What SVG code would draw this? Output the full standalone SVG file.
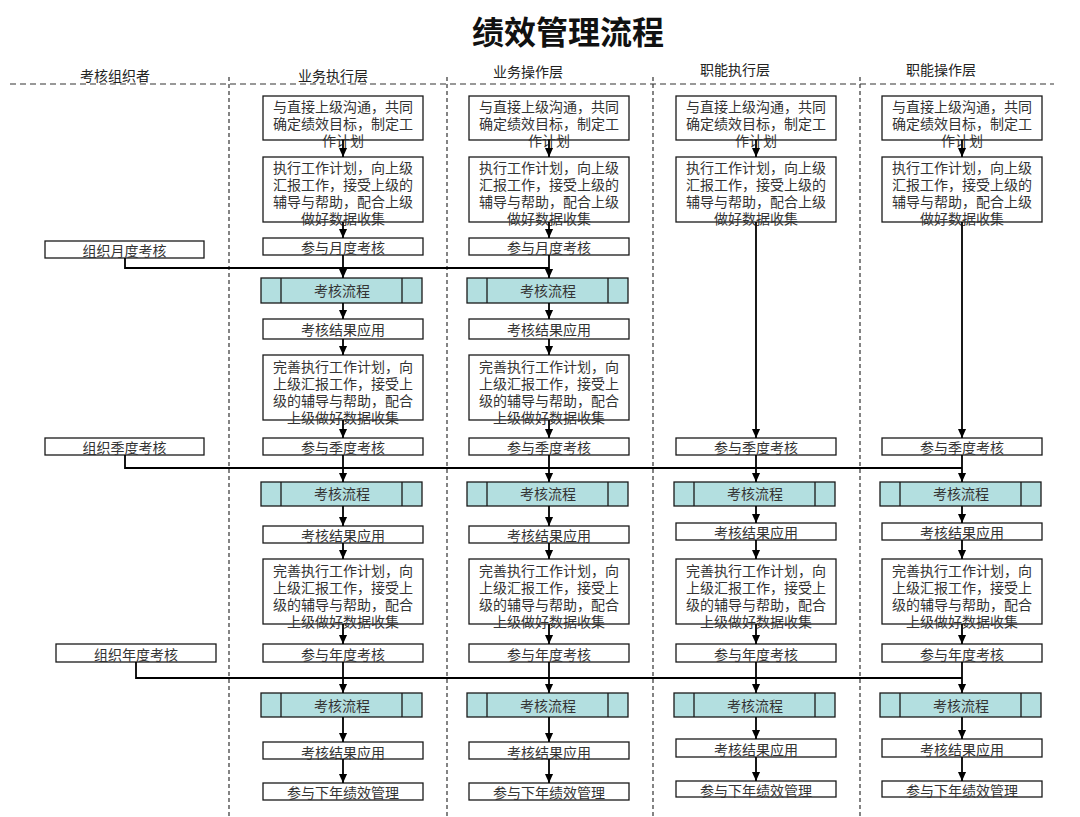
<svg xmlns="http://www.w3.org/2000/svg" width="1080" height="817" viewBox="0 0 1080 817">
<style>
.box{fill:#fff;stroke:#1a1a1a;stroke-width:1.3}
.proc{fill:#b3dfe0;stroke:#1a1a1a;stroke-width:1.3}
.in{stroke:#1a1a1a;stroke-width:1.3}
.t{font-family:"Noto Sans CJK SC","Noto Sans CJK JP",sans-serif;font-size:14px;fill:#333;text-anchor:middle}
.h{font-family:"Noto Sans CJK SC","Noto Sans CJK JP",sans-serif;font-size:14px;fill:#222;text-anchor:middle}
.title{font-family:"Noto Sans CJK SC","Noto Sans CJK JP",sans-serif;font-size:32px;font-weight:bold;fill:#111;text-anchor:middle}
.c{stroke:#000;stroke-width:1.8;fill:none}
.a{stroke:#000;stroke-width:1.8;fill:none;marker-end:url(#ah)}
.dh{stroke:#333;stroke-width:1.2;stroke-dasharray:6 4;fill:none}
.dv{stroke:#333;stroke-width:1.2;stroke-dasharray:4 3;fill:none}
</style>
<defs>
<marker id="ah" viewBox="0 0 10 10" refX="10" refY="5" markerWidth="9" markerHeight="9" markerUnits="userSpaceOnUse" orient="auto"><path d="M0,0.5 L10,5 L0,9.5 z" fill="#000"/></marker>
</defs>
<rect width="1080" height="817" fill="#fff"/>
<g id="title"><text class="title" x="568" y="44">绩效管理流程</text></g>
<g id="lanes">
<path class="dh" d="M10 84 H1054"/>
<path class="dv" d="M229 77 V817 M447 77 V817 M653 77 V817 M860 77 V817"/>
<text class="h" x="115" y="81">考核组织者</text>
<text class="h" x="333" y="81">业务执行层</text>
<text class="h" x="528" y="77">业务操作层</text>
<text class="h" x="735" y="75">职能执行层</text>
<text class="h" x="941" y="75">职能操作层</text>
</g>
<g id="org-month"><rect class="box" x="45" y="241" width="159" height="17"/><text class="t" x="124.5" y="256">组织月度考核</text></g>
<g id="org-quarter"><rect class="box" x="45" y="438" width="159" height="17"/><text class="t" x="124.5" y="453">组织季度考核</text></g>
<g id="org-year"><rect class="box" x="56" y="644" width="160" height="18"/><text class="t" x="136" y="660">组织年度考核</text></g>

<!-- column 1: 业务执行层 -->
<g id="c1-n1"><rect class="box" x="263" y="96" width="160" height="44"/><text class="t" y="112"><tspan x="343">与直接上级沟通，共同</tspan><tspan x="343" dy="17">确定绩效目标，制定工</tspan><tspan x="343" dy="17">作计划</tspan></text></g>
<g id="c1-n2"><rect class="box" x="263" y="157" width="160" height="65"/><text class="t" y="173"><tspan x="343">执行工作计划，向上级</tspan><tspan x="343" dy="17">汇报工作，接受上级的</tspan><tspan x="343" dy="17">辅导与帮助，配合上级</tspan><tspan x="343" dy="17">做好数据收集</tspan></text></g>
<g id="c1-n3"><rect class="box" x="263" y="238" width="160" height="17"/><text class="t" x="343" y="253">参与月度考核</text></g>
<g id="c1-n4"><rect class="proc" x="261" y="278" width="161" height="25"/><path class="in" d="M281 278 V303 M402 278 V303"/><text class="t" x="342" y="296">考核流程</text></g>
<g id="c1-n5"><rect class="box" x="263" y="319" width="160" height="20"/><text class="t" x="343" y="335">考核结果应用</text></g>
<g id="c1-n6"><rect class="box" x="263" y="355" width="160" height="65"/><text class="t" y="372"><tspan x="343">完善执行工作计划，向</tspan><tspan x="343" dy="17">上级汇报工作，接受上</tspan><tspan x="343" dy="17">级的辅导与帮助，配合</tspan><tspan x="343" dy="17">上级做好数据收集</tspan></text></g>
<g id="c1-n7"><rect class="box" x="263" y="438" width="160" height="17"/><text class="t" x="343" y="453">参与季度考核</text></g>
<g id="c1-n8"><rect class="proc" x="261" y="482" width="161" height="24"/><path class="in" d="M281 482 V506 M402 482 V506"/><text class="t" x="342" y="499">考核流程</text></g>
<g id="c1-n9"><rect class="box" x="263" y="526" width="160" height="17"/><text class="t" x="343" y="541">考核结果应用</text></g>
<g id="c1-n10"><rect class="box" x="263" y="559" width="160" height="65"/><text class="t" y="576"><tspan x="343">完善执行工作计划，向</tspan><tspan x="343" dy="17">上级汇报工作，接受上</tspan><tspan x="343" dy="17">级的辅导与帮助，配合</tspan><tspan x="343" dy="17">上级做好数据收集</tspan></text></g>
<g id="c1-n11"><rect class="box" x="263" y="644" width="160" height="18"/><text class="t" x="343" y="660">参与年度考核</text></g>
<g id="c1-n12"><rect class="proc" x="261" y="693" width="161" height="24"/><path class="in" d="M281 693 V717 M402 693 V717"/><text class="t" x="342" y="711">考核流程</text></g>
<g id="c1-n13"><rect class="box" x="263" y="742" width="160" height="17"/><text class="t" x="343" y="758">考核结果应用</text></g>
<g id="c1-n14"><rect class="box" x="263" y="783" width="160" height="17"/><text class="t" x="343" y="798">参与下年绩效管理</text></g>

<!-- column 2: 业务操作层 -->
<g id="c2-n1"><rect class="box" x="469" y="96" width="160" height="44"/><text class="t" y="112"><tspan x="549">与直接上级沟通，共同</tspan><tspan x="549" dy="17">确定绩效目标，制定工</tspan><tspan x="549" dy="17">作计划</tspan></text></g>
<g id="c2-n2"><rect class="box" x="469" y="157" width="160" height="65"/><text class="t" y="173"><tspan x="549">执行工作计划，向上级</tspan><tspan x="549" dy="17">汇报工作，接受上级的</tspan><tspan x="549" dy="17">辅导与帮助，配合上级</tspan><tspan x="549" dy="17">做好数据收集</tspan></text></g>
<g id="c2-n3"><rect class="box" x="469" y="238" width="160" height="17"/><text class="t" x="549" y="253">参与月度考核</text></g>
<g id="c2-n4"><rect class="proc" x="467" y="278" width="161" height="25"/><path class="in" d="M487 278 V303 M608 278 V303"/><text class="t" x="548" y="296">考核流程</text></g>
<g id="c2-n5"><rect class="box" x="469" y="319" width="160" height="20"/><text class="t" x="549" y="335">考核结果应用</text></g>
<g id="c2-n6"><rect class="box" x="469" y="355" width="160" height="65"/><text class="t" y="372"><tspan x="549">完善执行工作计划，向</tspan><tspan x="549" dy="17">上级汇报工作，接受上</tspan><tspan x="549" dy="17">级的辅导与帮助，配合</tspan><tspan x="549" dy="17">上级做好数据收集</tspan></text></g>
<g id="c2-n7"><rect class="box" x="469" y="438" width="160" height="17"/><text class="t" x="549" y="453">参与季度考核</text></g>
<g id="c2-n8"><rect class="proc" x="467" y="482" width="161" height="24"/><path class="in" d="M487 482 V506 M608 482 V506"/><text class="t" x="548" y="499">考核流程</text></g>
<g id="c2-n9"><rect class="box" x="469" y="526" width="160" height="17"/><text class="t" x="549" y="541">考核结果应用</text></g>
<g id="c2-n10"><rect class="box" x="469" y="559" width="160" height="65"/><text class="t" y="576"><tspan x="549">完善执行工作计划，向</tspan><tspan x="549" dy="17">上级汇报工作，接受上</tspan><tspan x="549" dy="17">级的辅导与帮助，配合</tspan><tspan x="549" dy="17">上级做好数据收集</tspan></text></g>
<g id="c2-n11"><rect class="box" x="469" y="644" width="160" height="18"/><text class="t" x="549" y="660">参与年度考核</text></g>
<g id="c2-n12"><rect class="proc" x="467" y="693" width="161" height="24"/><path class="in" d="M487 693 V717 M608 693 V717"/><text class="t" x="548" y="711">考核流程</text></g>
<g id="c2-n13"><rect class="box" x="469" y="742" width="160" height="17"/><text class="t" x="549" y="758">考核结果应用</text></g>
<g id="c2-n14"><rect class="box" x="469" y="783" width="160" height="17"/><text class="t" x="549" y="798">参与下年绩效管理</text></g>

<!-- column 3: 职能执行层 -->
<g id="c3-n1"><rect class="box" x="676" y="96" width="160" height="44"/><text class="t" y="112"><tspan x="756">与直接上级沟通，共同</tspan><tspan x="756" dy="17">确定绩效目标，制定工</tspan><tspan x="756" dy="17">作计划</tspan></text></g>
<g id="c3-n2"><rect class="box" x="676" y="157" width="160" height="65"/><text class="t" y="173"><tspan x="756">执行工作计划，向上级</tspan><tspan x="756" dy="17">汇报工作，接受上级的</tspan><tspan x="756" dy="17">辅导与帮助，配合上级</tspan><tspan x="756" dy="17">做好数据收集</tspan></text></g>
<g id="c3-n7"><rect class="box" x="676" y="438" width="160" height="17"/><text class="t" x="756" y="453">参与季度考核</text></g>
<g id="c3-n8"><rect class="proc" x="674" y="482" width="161" height="24"/><path class="in" d="M694 482 V506 M815 482 V506"/><text class="t" x="755" y="499">考核流程</text></g>
<g id="c3-n9"><rect class="box" x="676" y="523" width="160" height="17"/><text class="t" x="756" y="538">考核结果应用</text></g>
<g id="c3-n10"><rect class="box" x="676" y="559" width="160" height="65"/><text class="t" y="576"><tspan x="756">完善执行工作计划，向</tspan><tspan x="756" dy="17">上级汇报工作，接受上</tspan><tspan x="756" dy="17">级的辅导与帮助，配合</tspan><tspan x="756" dy="17">上级做好数据收集</tspan></text></g>
<g id="c3-n11"><rect class="box" x="676" y="644" width="160" height="18"/><text class="t" x="756" y="660">参与年度考核</text></g>
<g id="c3-n12"><rect class="proc" x="674" y="693" width="161" height="24"/><path class="in" d="M694 693 V717 M815 693 V717"/><text class="t" x="755" y="711">考核流程</text></g>
<g id="c3-n13"><rect class="box" x="676" y="739" width="160" height="18"/><text class="t" x="756" y="755">考核结果应用</text></g>
<g id="c3-n14"><rect class="box" x="676" y="781" width="160" height="16"/><text class="t" x="756" y="796">参与下年绩效管理</text></g>

<!-- column 4: 职能操作层 -->
<g id="c4-n1"><rect class="box" x="882" y="96" width="160" height="44"/><text class="t" y="112"><tspan x="962">与直接上级沟通，共同</tspan><tspan x="962" dy="17">确定绩效目标，制定工</tspan><tspan x="962" dy="17">作计划</tspan></text></g>
<g id="c4-n2"><rect class="box" x="882" y="157" width="160" height="65"/><text class="t" y="173"><tspan x="962">执行工作计划，向上级</tspan><tspan x="962" dy="17">汇报工作，接受上级的</tspan><tspan x="962" dy="17">辅导与帮助，配合上级</tspan><tspan x="962" dy="17">做好数据收集</tspan></text></g>
<g id="c4-n7"><rect class="box" x="882" y="438" width="160" height="17"/><text class="t" x="962" y="453">参与季度考核</text></g>
<g id="c4-n8"><rect class="proc" x="880" y="482" width="161" height="24"/><path class="in" d="M900 482 V506 M1021 482 V506"/><text class="t" x="961" y="499">考核流程</text></g>
<g id="c4-n9"><rect class="box" x="882" y="523" width="160" height="17"/><text class="t" x="962" y="538">考核结果应用</text></g>
<g id="c4-n10"><rect class="box" x="882" y="559" width="160" height="65"/><text class="t" y="576"><tspan x="962">完善执行工作计划，向</tspan><tspan x="962" dy="17">上级汇报工作，接受上</tspan><tspan x="962" dy="17">级的辅导与帮助，配合</tspan><tspan x="962" dy="17">上级做好数据收集</tspan></text></g>
<g id="c4-n11"><rect class="box" x="882" y="644" width="160" height="18"/><text class="t" x="962" y="660">参与年度考核</text></g>
<g id="c4-n12"><rect class="proc" x="880" y="693" width="161" height="24"/><path class="in" d="M900 693 V717 M1021 693 V717"/><text class="t" x="961" y="711">考核流程</text></g>
<g id="c4-n13"><rect class="box" x="882" y="739" width="160" height="18"/><text class="t" x="962" y="755">考核结果应用</text></g>
<g id="c4-n14"><rect class="box" x="882" y="781" width="160" height="16"/><text class="t" x="962" y="796">参与下年绩效管理</text></g>

<g id="connectors">
<path class="c" d="M125 258 V268 H549"/>
<path class="c" d="M125 455 V468 H962"/>
<path class="c" d="M136 662 V678 H962"/>
<path class="a" d="M343 140 V157"/>
<path class="a" d="M343 222 V238"/>
<path class="a" d="M343 255 V278"/>
<path class="a" d="M343 303 V319"/>
<path class="a" d="M343 339 V355"/>
<path class="a" d="M343 420 V438"/>
<path class="a" d="M343 455 V482"/>
<path class="a" d="M343 506 V526"/>
<path class="a" d="M343 543 V559"/>
<path class="a" d="M343 624 V644"/>
<path class="a" d="M343 662 V693"/>
<path class="a" d="M343 717 V742"/>
<path class="a" d="M343 759 V783"/>
<path class="a" d="M549 140 V157"/>
<path class="a" d="M549 222 V238"/>
<path class="a" d="M549 255 V278"/>
<path class="a" d="M549 303 V319"/>
<path class="a" d="M549 339 V355"/>
<path class="a" d="M549 420 V438"/>
<path class="a" d="M549 455 V482"/>
<path class="a" d="M549 506 V526"/>
<path class="a" d="M549 543 V559"/>
<path class="a" d="M549 624 V644"/>
<path class="a" d="M549 662 V693"/>
<path class="a" d="M549 717 V742"/>
<path class="a" d="M549 759 V783"/>
<path class="a" d="M756 140 V157"/>
<path class="a" d="M756 222 V438"/>
<path class="a" d="M756 455 V482"/>
<path class="a" d="M756 506 V523"/>
<path class="a" d="M756 540 V559"/>
<path class="a" d="M756 624 V644"/>
<path class="a" d="M756 662 V693"/>
<path class="a" d="M756 717 V739"/>
<path class="a" d="M756 757 V781"/>
<path class="a" d="M962 140 V157"/>
<path class="a" d="M962 222 V438"/>
<path class="a" d="M962 455 V482"/>
<path class="a" d="M962 506 V523"/>
<path class="a" d="M962 540 V559"/>
<path class="a" d="M962 624 V644"/>
<path class="a" d="M962 662 V693"/>
<path class="a" d="M962 717 V739"/>
<path class="a" d="M962 757 V781"/>
</g>
</svg>
